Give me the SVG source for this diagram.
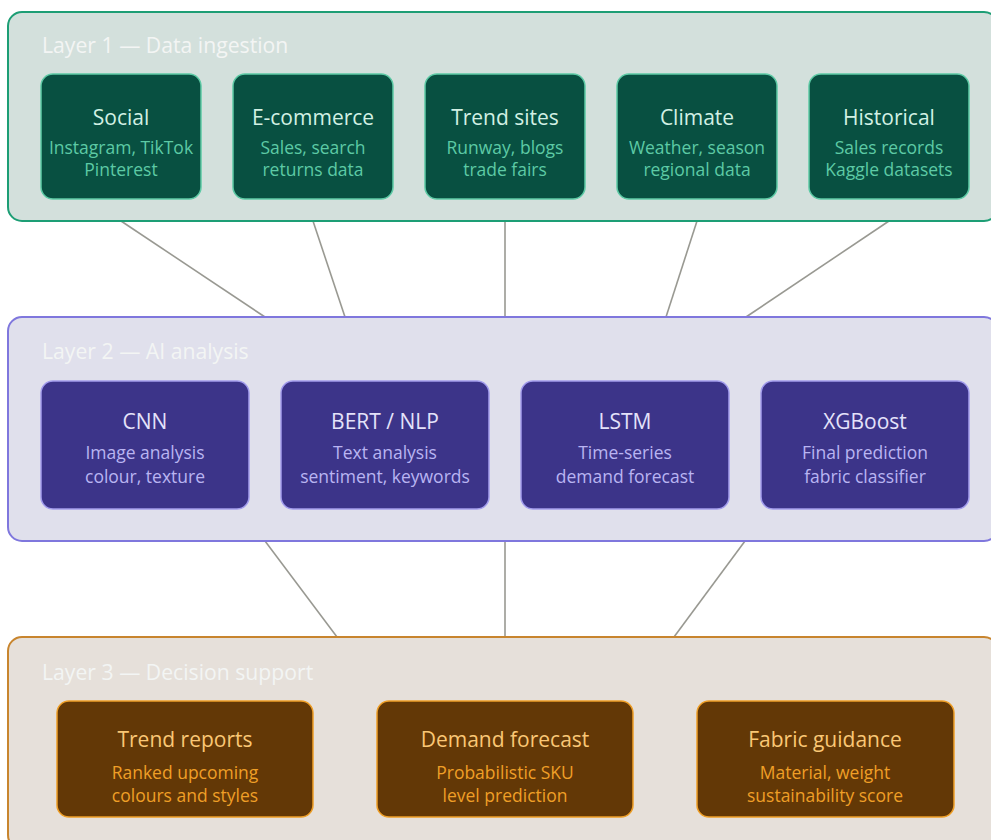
<svg xmlns="http://www.w3.org/2000/svg" width="991" height="840" viewBox="0 0 991 840">
<style>
text{font-family:"Open Sans","Noto Sans",sans-serif;text-anchor:middle}
.lbl{font-size:21.2px;text-anchor:start;fill:#f3f5f4}
.t{font-size:21px}
.s{font-size:17.5px}
.c1{fill:#d3e0dc;stroke:#1d9e75;stroke-width:2}
.c2{fill:#e0e0ec;stroke:#7f77dd;stroke-width:2}
.c3{fill:#e6e0da;stroke:#c8852e;stroke-width:2}
.n1 rect{fill:#085041;stroke:#5dcaa5;stroke-width:1.5}
.n1 .t{fill:#d2f0e4}.n1 .s{fill:#5dcaa5}
.n2 rect{fill:#3c3489;stroke:#a29cec;stroke-width:1.5}
.n2 .t{fill:#e4e2fa}.n2 .s{fill:#b9b4f2}
.n3 rect{fill:#633806;stroke:#ef9f27;stroke-width:1.5}
.n3 .t{fill:#fac775}.n3 .s{fill:#ef9f27}
.conn line{stroke:#999992;stroke-width:1.6}
</style>
<g id="connectors" class="conn">
<line x1="121" y1="221" x2="265" y2="317"/>
<line x1="313" y1="221" x2="345" y2="317"/>
<line x1="505" y1="221" x2="505" y2="317"/>
<line x1="697" y1="221" x2="666" y2="317"/>
<line x1="889" y1="221" x2="746" y2="317"/>
<line x1="265" y1="541" x2="337" y2="637"/>
<line x1="505" y1="541" x2="505" y2="637"/>
<line x1="745" y1="541" x2="674" y2="637"/>
</g>
<g id="layer1">
<rect class="c1" x="8" y="12" width="990" height="209" rx="14"/>
<text class="lbl" x="42" y="53">Layer 1 — Data ingestion</text>
</g>
<g id="layer2">
<rect class="c2" x="8" y="317" width="990" height="224" rx="14"/>
<text class="lbl" x="42" y="359">Layer 2 — AI analysis</text>
</g>
<g id="layer3">
<rect class="c3" x="8" y="637" width="990" height="212" rx="14"/>
<text class="lbl" x="42" y="680">Layer 3 — Decision support</text>
</g>
<g id="social" class="n1"><rect x="41" y="74" width="160" height="125" rx="12"/><text class="t" x="121" y="125">Social</text><text class="s" x="121" y="154">Instagram, TikTok</text><text class="s" x="121" y="176">Pinterest</text></g>
<g id="ecommerce" class="n1"><rect x="233" y="74" width="160" height="125" rx="12"/><text class="t" x="313" y="125">E-commerce</text><text class="s" x="313" y="154">Sales, search</text><text class="s" x="313" y="176">returns data</text></g>
<g id="trendsites" class="n1"><rect x="425" y="74" width="160" height="125" rx="12"/><text class="t" x="505" y="125">Trend sites</text><text class="s" x="505" y="154">Runway, blogs</text><text class="s" x="505" y="176">trade fairs</text></g>
<g id="climate" class="n1"><rect x="617" y="74" width="160" height="125" rx="12"/><text class="t" x="697" y="125">Climate</text><text class="s" x="697" y="154">Weather, season</text><text class="s" x="697" y="176">regional data</text></g>
<g id="historical" class="n1"><rect x="809" y="74" width="160" height="125" rx="12"/><text class="t" x="889" y="125">Historical</text><text class="s" x="889" y="154">Sales records</text><text class="s" x="889" y="176">Kaggle datasets</text></g>
<g id="cnn" class="n2"><rect x="41" y="381" width="208" height="128" rx="12"/><text class="t" x="145" y="429">CNN</text><text class="s" x="145" y="459">Image analysis</text><text class="s" x="145" y="483">colour, texture</text></g>
<g id="bert" class="n2"><rect x="281" y="381" width="208" height="128" rx="12"/><text class="t" x="385" y="429">BERT / NLP</text><text class="s" x="385" y="459">Text analysis</text><text class="s" x="385" y="483">sentiment, keywords</text></g>
<g id="lstm" class="n2"><rect x="521" y="381" width="208" height="128" rx="12"/><text class="t" x="625" y="429">LSTM</text><text class="s" x="625" y="459">Time-series</text><text class="s" x="625" y="483">demand forecast</text></g>
<g id="xgboost" class="n2"><rect x="761" y="381" width="208" height="128" rx="12"/><text class="t" x="865" y="429">XGBoost</text><text class="s" x="865" y="459">Final prediction</text><text class="s" x="865" y="483">fabric classifier</text></g>
<g id="trendreports" class="n3"><rect x="57" y="701" width="256" height="116" rx="12"/><text class="t" x="185" y="747">Trend reports</text><text class="s" x="185" y="779">Ranked upcoming</text><text class="s" x="185" y="802">colours and styles</text></g>
<g id="demandforecast" class="n3"><rect x="377" y="701" width="256" height="116" rx="12"/><text class="t" x="505" y="747">Demand forecast</text><text class="s" x="505" y="779">Probabilistic SKU</text><text class="s" x="505" y="802">level prediction</text></g>
<g id="fabricguidance" class="n3"><rect x="697" y="701" width="257" height="116" rx="12"/><text class="t" x="825" y="747">Fabric guidance</text><text class="s" x="825" y="779">Material, weight</text><text class="s" x="825" y="802">sustainability score</text></g>
</svg>
